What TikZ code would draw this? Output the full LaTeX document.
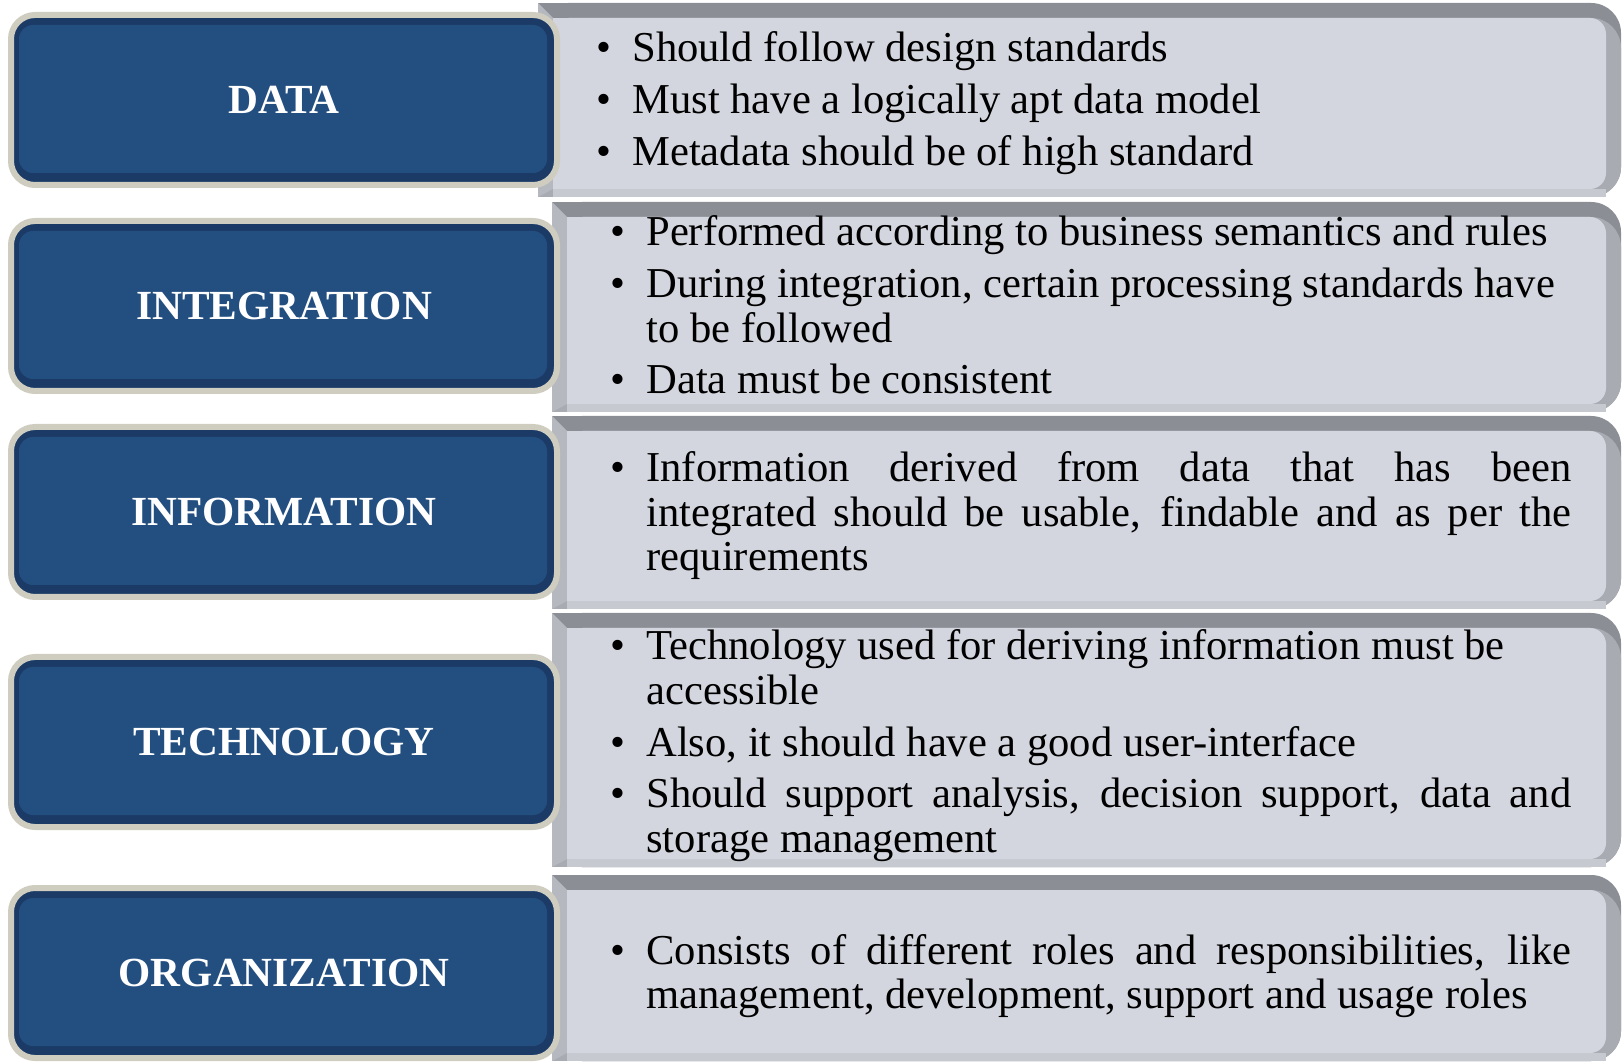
\documentclass[tikz,border=0pt]{standalone}
\usepackage{fontspec}
\setmainfont{Liberation Serif}

\definecolor{boxblue}{HTML}{234E80}
\definecolor{rimblue}{HTML}{1B3A66}
\definecolor{cream}{HTML}{CFCDC0}
\definecolor{panelfill}{HTML}{D3D6DE}
\definecolor{paneltop}{HTML}{8C8E96}
\definecolor{panelside}{HTML}{A8ABB2}
\definecolor{panelleft}{HTML}{B5B8BF}
\definecolor{panelbottom}{HTML}{C6C9D0}

% bullet with hanging indent
\newcommand{\bpoint}{\setlength{\parskip}{3.6pt}\hyphenpenalty=10000\relax
  \noindent\hangindent=18pt\hangafter=1\relax\makebox[18pt][l]{\textbullet}\ignorespaces}

% bevelled grey panel: left x, top y, bottom y
\newcommand{\panel}[3]{%
  \fill[paneltop, rounded corners=15pt] (#1,#2) rectangle (1621,#3);
  \fill[paneltop] (#1,#2) rectangle ({#1+60},#3);
  \fill[panelside, rounded corners=15pt] (#1,{#2+15}) rectangle (1621,#3);
  \fill[panelside] (#1,{#2+15}) rectangle ({#1+60},#3);
  \fill[panelbottom] ({#1+15},{#3-8}) rectangle (1606,#3);
  \fill[panelleft] (#1,#2) -- ({#1+15},{#2+15}) -- ({#1+15},{#3-8}) -- (#1,#3) -- cycle;
  \fill[panelfill, rounded corners=8pt] ({#1+15},{#2+15}) rectangle (1606,{#3-8});
  \fill[panelfill] ({#1+15},{#2+15}) rectangle ({#1+60},{#3-8});
}

\tikzset{
  label box/.style={rectangle, rounded corners=12pt, draw=cream, line width=3pt, fill=rimblue,
    minimum width=273pt, minimum height=85pt, text=white,
    font=\fontsize{20.7}{24}\selectfont\bfseries,
    path picture={\fill[boxblue, rounded corners=7pt]
      ([shift={(4pt,-5pt)}]path picture bounding box.north west) rectangle
      ([shift={(-5pt,6pt)}]path picture bounding box.south east);}},
  points/.style={anchor=base west, inner sep=0pt, text width=480.5pt, align=justify,
    font=\fontsize{21.3}{22.25}\selectfont}
}

\begin{document}
\begin{tikzpicture}[x=0.5pt,y=-0.5pt]
        \useasboundingbox (0,0) rectangle (1623,1063);

        % grey panels
        \panel{538}{3}{197}
        \panel{552}{202}{412}
        \panel{552}{416}{609}
        \panel{552}{613}{867}
        \panel{552}{875}{1061}

        % blue labels
        \node[label box] (data) at (284,100) {DATA};
        \node[label box] (integration) at (284,306) {INTEGRATION};
        \node[label box] (information) at (284,512) {INFORMATION};
        \node[label box] (technology) at (284,742) {TECHNOLOGY};
        \node[label box] (organization) at (284,973) {ORGANIZATION};

        % bullet texts
        \node[points] (dataPoints) at (596,62) {\bpoint Should follow design standards
            \par\bpoint Must have a logically apt data model
            \par\bpoint Metadata should be of high standard\par};
        \node[points] (integrationPoints) at (610,246) {\bpoint Performed according to business semantics and rules
            \par\bpoint During integration, certain processing standards have\newline to be followed
            \par\bpoint Data must be consistent\par};
        \node[points] (informationPoints) at (610,482) {\bpoint Information derived from data that has been\linebreak
            integrated should be usable, findable and as per the\linebreak requirements\par};
        \node[points] (technologyPoints) at (610,660) {\bpoint Technology used for deriving information must be\newline accessible
            \par\bpoint Also, it should have a good user-interface
            \par\bpoint Should support analysis, decision support, data and\linebreak storage management\par};
        \node[points] (organizationPoints) at (610,964) {\bpoint Consists of different roles and responsibilities, like\linebreak
            management, development, support and usage roles\par};

    \end{tikzpicture}
\end{document}
